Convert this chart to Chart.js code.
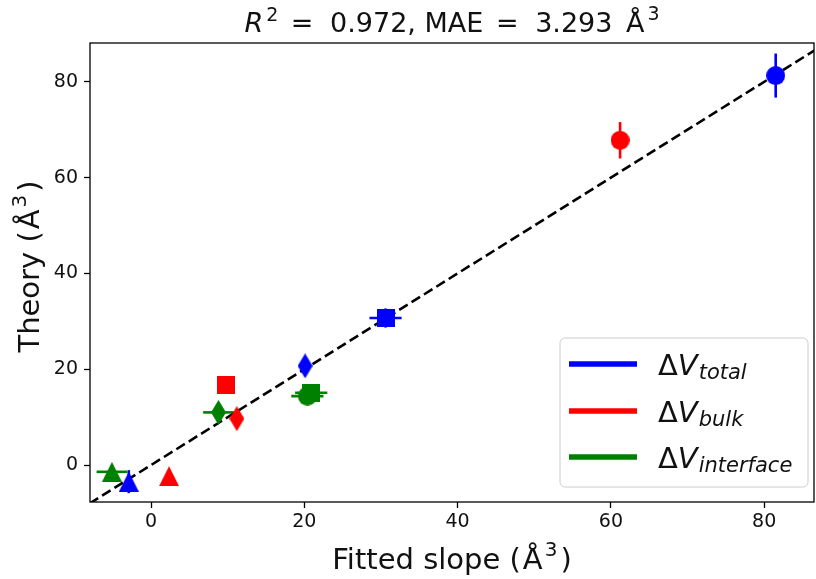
<!DOCTYPE html>
<html>
<head>
<meta charset="utf-8">
<script src="https://cdn.jsdelivr.net/npm/chart.js@4.4.0/dist/chart.umd.min.js"></script>
<style>
  html, body { margin: 0; padding: 0; background: #ffffff; }
  #wrap { width: 816px; height: 579px; position: relative; }
</style>
</head>
<body>
<div id="wrap"><canvas id="c" width="816" height="579"></canvas></div>
<script>
// ---------- data ----------
const markerShapes = ['circle', 'square', 'diamond', 'triangle'];

const totalX    = [81.5, 30.6, 20.1, -2.9];
const totalY    = [81.3, 30.7, 20.7, -3.45];
const totalXErr = [0, 2.1, 0, 0];
const totalYErr = [4.6, 2.0, 0, 2.4];

const bulkX    = [61.2, 9.8, 11.2, 2.35];
const bulkY    = [67.8, 16.7, 9.7, -2.3];
const bulkXErr = [0, 0, 0, 0];
const bulkYErr = [3.8, 0, 0, 0];

const interfaceX    = [20.4, 20.9, 8.8, -5.1];
const interfaceY    = [14.4, 15.1, 11.0, -1.4];
const interfaceXErr = [2.1, 2.1, 2.0, 2.0];
const interfaceYErr = [0, 0, 0, 0];

const parityLine = [-8, 88];           // y = x reference line end values
const xTickValues = [0, 20, 40, 60, 80];
const yTickValues = [0, 20, 40, 60, 80];
const xRange = [-7.96, 86.5];
const yRange = [-7.7, 88.1];

const seriesNames = ['total', 'bulk', 'interface'];
const seriesColors = ['#0000ff', '#ff0000', '#008000'];

// ---------- marker images ----------
function makeMarker(shape, color) {
  const c = document.createElement('canvas');
  let w, h;
  if (shape === 'circle') { w = 19; h = 19; }
  else if (shape === 'square') { w = 18; h = 18; }
  else if (shape === 'diamond') { w = 15; h = 25; }
  else { w = 20; h = 20; }
  c.width = w; c.height = h;
  const g = c.getContext('2d');
  g.fillStyle = color;
  g.beginPath();
  if (shape === 'circle') {
    g.arc(w / 2, h / 2, w / 2, 0, Math.PI * 2);
  } else if (shape === 'square') {
    g.rect(0, 0, w, h);
  } else if (shape === 'diamond') {
    g.moveTo(w / 2, 0); g.lineTo(w, h / 2); g.lineTo(w / 2, h); g.lineTo(0, h / 2);
  } else {
    g.moveTo(w / 2, 0); g.lineTo(w, h); g.lineTo(0, h);
  }
  g.closePath();
  g.fill();
  return c;
}

function buildDataset(label, xs, ys, xe, ye, color) {
  return {
    label: label,
    data: xs.map((x, i) => ({ x: x, y: ys[i], xerr: xe[i], yerr: ye[i] })),
    pointStyle: markerShapes.map(s => makeMarker(s, color)),
    pointRadius: 10,
    backgroundColor: color,
    borderColor: color,
    showLine: false,
    errColor: color
  };
}

const datasets = [
  buildDataset('total', totalX, totalY, totalXErr, totalYErr, seriesColors[0]),
  buildDataset('bulk', bulkX, bulkY, bulkXErr, bulkYErr, seriesColors[1]),
  buildDataset('interface', interfaceX, interfaceY, interfaceXErr, interfaceYErr, seriesColors[2]),
  {
    label: 'parity',
    data: parityLine.map(v => ({ x: v, y: v })),
    showLine: true,
    borderColor: '#000000',
    borderWidth: 2.6,
    borderDash: [10, 4.6],
    pointRadius: 0,
    clip: 0
  }
];

// ---------- helpers for rich text ----------
function drawRich(ctx, parts, x, y, align) {
  let total = 0;
  parts.forEach(p => { ctx.font = p.font; p.w = ctx.measureText(p.t).width; total += p.w + (p.gap || 0); });
  let cx = align === 'center' ? x - total / 2 : x;
  ctx.textAlign = 'left';
  ctx.textBaseline = 'alphabetic';
  parts.forEach(p => {
    cx += (p.gap || 0);
    ctx.font = p.font;
    ctx.fillText(p.t, cx, y + (p.dy || 0));
    cx += p.w;
  });
}

const FONT = '"DejaVu Sans"';

const decorPlugin = {
  id: 'decor',
  beforeDatasetsDraw(chart) {
    const ctx = chart.ctx, xs = chart.scales.x, ys = chart.scales.y, a = chart.chartArea;
    ctx.save();
    ctx.beginPath();
    ctx.rect(a.left, a.top, a.right - a.left, a.bottom - a.top);
    ctx.clip();
    ctx.lineWidth = 2.6;
    ctx.lineCap = 'butt';
    chart.data.datasets.forEach(ds => {
      if (!ds.errColor) return;
      ctx.strokeStyle = ds.errColor;
      ds.data.forEach(p => {
        const px = xs.getPixelForValue(p.x), py = ys.getPixelForValue(p.y);
        if (p.xerr) {
          ctx.beginPath();
          ctx.moveTo(xs.getPixelForValue(p.x - p.xerr), py);
          ctx.lineTo(xs.getPixelForValue(p.x + p.xerr), py);
          ctx.stroke();
        }
        if (p.yerr) {
          ctx.beginPath();
          ctx.moveTo(px, ys.getPixelForValue(p.y - p.yerr));
          ctx.lineTo(px, ys.getPixelForValue(p.y + p.yerr));
          ctx.stroke();
        }
      });
    });
    ctx.restore();
  },
  afterDatasetsDraw(chart) {
    const ctx = chart.ctx, a = chart.chartArea;
    ctx.save();
    ctx.strokeStyle = '#000000';
    ctx.lineWidth = 1.3;
    ctx.strokeRect(a.left, a.top, a.right - a.left, a.bottom - a.top);
    ctx.restore();
  },
  afterDraw(chart) {
    const ctx = chart.ctx, a = chart.chartArea;
    const cx = (a.left + a.right) / 2;
    ctx.save();
    ctx.fillStyle = '#111111';
    // title
    drawRich(ctx, [
      { t: 'R', font: 'italic 27px ' + FONT },
      { t: '2', font: '19px ' + FONT, dy: -11, gap: 3 },
      { t: ' =', font: '27px ' + FONT, gap: 4 },
      { t: ' 0.972, MAE', font: '27px ' + FONT, gap: 8 },
      { t: ' =', font: '27px ' + FONT, gap: 4 },
      { t: ' 3.293', font: '27px ' + FONT, gap: 8 },
      { t: ' Å', font: '27px ' + FONT, gap: 5 },
      { t: '3', font: '19px ' + FONT, dy: -12, gap: 3 }
    ], cx, 32, 'center');
    // x axis title
    drawRich(ctx, [
      { t: 'Fitted slope (', font: '29px ' + FONT },
      { t: 'Å', font: '29px ' + FONT, gap: 2 },
      { t: '3', font: '20px ' + FONT, dy: -13, gap: 2 },
      { t: ')', font: '29px ' + FONT, gap: 3 }
    ], cx, 569, 'center');
    // y axis title
    ctx.save();
    ctx.translate(39, (a.top + a.bottom) / 2 - 6);
    ctx.rotate(-Math.PI / 2);
    drawRich(ctx, [
      { t: 'Theory (', font: '29px ' + FONT },
      { t: 'Å', font: '29px ' + FONT, gap: 2 },
      { t: '3', font: '20px ' + FONT, dy: -13, gap: 2 },
      { t: ')', font: '29px ' + FONT, gap: 3 }
    ], 0, 0, 'center');
    ctx.restore();

    // legend
    const bx = 560, by = 338, bw = 248, bh = 149, r = 5;
    ctx.beginPath();
    ctx.moveTo(bx + r, by);
    ctx.arcTo(bx + bw, by, bx + bw, by + bh, r);
    ctx.arcTo(bx + bw, by + bh, bx, by + bh, r);
    ctx.arcTo(bx, by + bh, bx, by, r);
    ctx.arcTo(bx, by, bx + bw, by, r);
    ctx.closePath();
    ctx.fillStyle = 'rgba(255,255,255,0.85)';
    ctx.fill();
    ctx.strokeStyle = '#cccccc';
    ctx.lineWidth = 1;
    ctx.stroke();
    const rowY = [364, 411, 457];
    seriesNames.forEach((n, i) => {
      ctx.strokeStyle = seriesColors[i];
      ctx.lineWidth = 5.5;
      ctx.beginPath();
      ctx.moveTo(569, rowY[i]);
      ctx.lineTo(637, rowY[i]);
      ctx.stroke();
      ctx.fillStyle = '#111111';
      drawRich(ctx, [
        { t: 'Δ', font: '29px ' + FONT },
        { t: 'V', font: 'italic 29px ' + FONT },
        { t: n, font: 'italic 21px ' + FONT, dy: 4, gap: 1 }
      ], 658, rowY[i] + 11, 'left');
    });
    ctx.restore();
  }
};

new Chart(document.getElementById('c'), {
  type: 'scatter',
  data: { datasets: datasets },
  options: {
    responsive: false,
    animation: false,
    events: [],
    layout: { autoPadding: false, padding: { top: 43, right: 2, left: 0, bottom: 0 } },
    plugins: { legend: { display: false }, title: { display: false }, tooltip: { enabled: false } },
    scales: {
      x: {
        type: 'linear', min: xRange[0], max: xRange[1],
        afterFit(s) { s.height = 77; s.paddingRight = 0; s.paddingLeft = 0; },
        afterBuildTicks(s) { s.ticks = xTickValues.map(v => ({ value: v })); },
        grid: { drawOnChartArea: false, drawTicks: true, tickLength: 6, tickColor: '#000', tickWidth: 1.3 },
        border: { display: false },
        ticks: { color: '#111', font: { family: 'DejaVu Sans', size: 19 }, padding: 3, maxRotation: 0 }
      },
      y: {
        type: 'linear', min: yRange[0], max: yRange[1],
        afterFit(s) { s.width = 90; s.paddingTop = 0; s.paddingBottom = 0; },
        afterBuildTicks(s) { s.ticks = yTickValues.map(v => ({ value: v })); },
        grid: { drawOnChartArea: false, drawTicks: true, tickLength: 6, tickColor: '#000', tickWidth: 1.3 },
        border: { display: false },
        ticks: { color: '#111', font: { family: 'DejaVu Sans', size: 19 }, padding: 6 }
      }
    }
  },
  plugins: [decorPlugin]
});
</script>
</body>
</html>
